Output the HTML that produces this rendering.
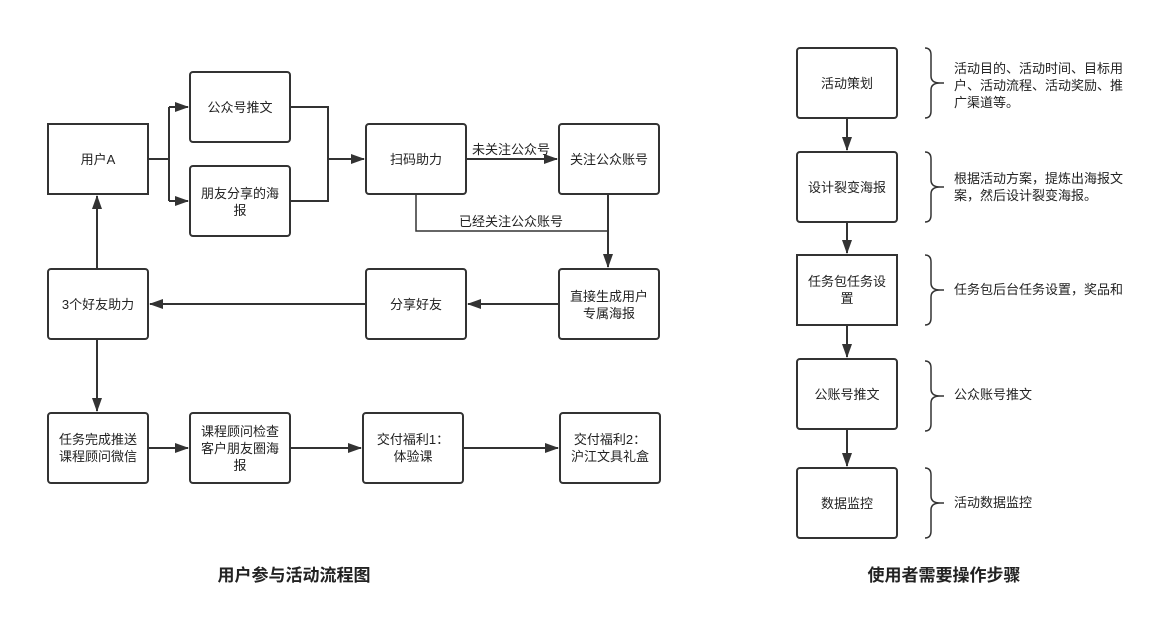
<!DOCTYPE html>
<html><head><meta charset="utf-8"><style>
html,body{margin:0;padding:0;background:#fff;}
svg text{font-family:"Liberation Sans","Noto Sans CJK SC",sans-serif;font-size:13px;fill:#222;}
</style></head><body>
<svg width="1163" height="625" viewBox="0 0 1163 625" xmlns="http://www.w3.org/2000/svg">
<defs>
<marker id="b" markerWidth="14" markerHeight="10" refX="13" refY="5" orient="auto" markerUnits="userSpaceOnUse"><path d="M0,0 L14,5 L0,10 z" fill="#333"/></marker></defs>
<g fill="#fff" stroke="#333" stroke-width="2">
<rect x="48" y="124" width="100" height="70"/>
<rect x="190" y="72" width="100" height="70" rx="3"/>
<rect x="190" y="166" width="100" height="70" rx="3"/>
<rect x="366" y="124" width="100" height="70" rx="3"/>
<rect x="559" y="124" width="100" height="70" rx="3"/>
<rect x="48" y="269" width="100" height="70" rx="3"/>
<rect x="366" y="269" width="100" height="70" rx="3"/>
<rect x="559" y="269" width="100" height="70" rx="3"/>
<rect x="48" y="413" width="100" height="70" rx="3"/>
<rect x="190" y="413" width="100" height="70" rx="3"/>
<rect x="363" y="413" width="100" height="70" rx="3"/>
<rect x="560" y="413" width="100" height="70" rx="3"/>
<rect x="797" y="48" width="100" height="70" rx="3"/>
<rect x="797" y="152" width="100" height="70" rx="3"/>
<rect x="797" y="255" width="100" height="70"/>
<rect x="797" y="359" width="100" height="70" rx="3"/>
<rect x="797" y="468" width="100" height="70" rx="3"/>
</g>
<g fill="none" stroke="#333" stroke-width="2">
<path d="M148,159 H169 M169,107 V201"/>
<path d="M169,107 H188" marker-end="url(#b)"/>
<path d="M169,201 H188" marker-end="url(#b)"/>
<path d="M290,107 H328 V201 H290 M328,159 H364" marker-end="url(#b)"/>
<path d="M466,159 H557" marker-end="url(#b)"/>
<path d="M416,194 V231 H608" stroke-width="1.5"/>
<path d="M608,194 V267" marker-end="url(#b)"/>
<path d="M559,304 H468" marker-end="url(#b)"/>
<path d="M366,304 H150" marker-end="url(#b)"/>
<path d="M97,269 V196" marker-end="url(#b)"/>
<path d="M97,339 V411" marker-end="url(#b)"/>
<path d="M148,448 H188" marker-end="url(#b)"/>
<path d="M290,448 H361" marker-end="url(#b)"/>
<path d="M463,448 H558" marker-end="url(#b)"/>
<path d="M847,118 V150" marker-end="url(#b)"/>
<path d="M847,222 V253" marker-end="url(#b)"/>
<path d="M847,325 V357" marker-end="url(#b)"/>
<path d="M847,429 V466" marker-end="url(#b)"/>
</g>
<g fill="none" stroke="#333" stroke-width="1.5">
<path d="M925,48 Q931,48 931,55 V76 Q931,83 940,83 Q931,83 931,90 V111 Q931,118 925,118 M940,83 H944"/>
<path d="M925,152 Q931,152 931,159 V180 Q931,187 940,187 Q931,187 931,194 V215 Q931,222 925,222 M940,187 H944"/>
<path d="M925,255 Q931,255 931,262 V283 Q931,290 940,290 Q931,290 931,297 V318 Q931,325 925,325 M940,290 H944"/>
<path d="M925,361 Q931,361 931,368 V389 Q931,396 940,396 Q931,396 931,403 V424 Q931,431 925,431 M940,396 H944"/>
<path d="M925,468 Q931,468 931,475 V496 Q931,503 940,503 Q931,503 931,510 V531 Q931,538 925,538 M940,503 H944"/>
</g>
<g text-anchor="middle">
<text x="98" y="164">用户A</text>
<text x="240" y="112">公众号推文</text>
<text x="240" y="198">朋友分享的海</text><text x="240" y="215">报</text>
<text x="416" y="164">扫码助力</text>
<text x="609" y="164">关注公众账号</text>
<text x="98" y="309">3个好友助力</text>
<text x="416" y="309">分享好友</text>
<text x="609" y="301">直接生成用户</text><text x="609" y="318">专属海报</text>
<text x="98" y="444">任务完成推送</text><text x="98" y="461">课程顾问微信</text>
<text x="240" y="436">课程顾问检查</text><text x="240" y="453">客户朋友圈海</text><text x="240" y="470">报</text>
<text x="413" y="444">交付福利1：</text><text x="413" y="461">体验课</text>
<text x="610" y="444">交付福利2：</text><text x="610" y="461">沪江文具礼盒</text>
<text x="847" y="88">活动策划</text>
<text x="847" y="192">设计裂变海报</text>
<text x="847" y="286">任务包任务设</text><text x="847" y="303">置</text>
<text x="847" y="399">公账号推文</text>
<text x="847" y="508">数据监控</text>
<text x="511" y="154">未关注公众号</text>
<text x="511" y="226">已经关注公众账号</text>
<text x="294" y="581" style="font-size:17px;font-weight:bold">用户参与活动流程图</text>
<text x="944" y="581" style="font-size:17px;font-weight:bold">使用者需要操作步骤</text>
</g>
<g>
<text x="954" y="73">活动目的、活动时间、目标用</text>
<text x="954" y="90">户、活动流程、活动奖励、推</text>
<text x="954" y="107">广渠道等。</text>
<text x="954" y="183">根据活动方案，提炼出海报文</text>
<text x="954" y="200">案，然后设计裂变海报。</text>
<text x="954" y="294">任务包后台任务设置，奖品和</text>
<text x="954" y="399">公众账号推文</text>
<text x="954" y="507">活动数据监控</text>
</g>
</svg>
</body></html>
